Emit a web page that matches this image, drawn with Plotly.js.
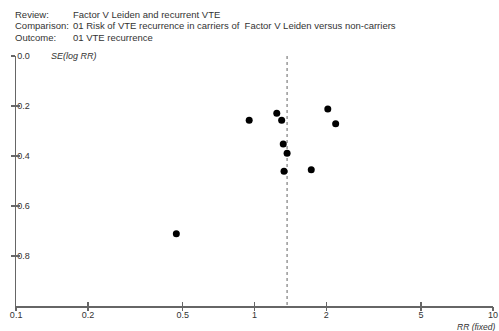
<!DOCTYPE html>
<html>
<head>
<meta charset="utf-8">
<script src="https://cdn.plot.ly/plotly-3.0.1.min.js"></script>
<style>html,body{margin:0;padding:0;background:#fff;}#chart{width:499px;height:331px;}</style>
</head>
<body>
<div id="chart"></div>
<script>
// Data
const rrValues = [0.95, 1.24, 1.30, 2.03, 2.19, 1.32, 1.37, 1.33, 1.73, 0.47];
const seValues = [0.257, 0.229, 0.257, 0.212, 0.271, 0.352, 0.389, 0.461, 0.455, 0.711];
const pooledRR = 1.37;
const xTickVals = [0.1, 0.2, 0.5, 1, 2, 5, 10];
const xTickText = ["0.1", "0.2", "0.5", "1", "2", "5", "10"];
const yTickVals = [0, 0.2, 0.4, 0.6, 0.8];
const yTickText = ["0.0", "0.2", "0.4", "0.6", "0.8"];
const headerLabels = ["Review:", "Comparison:", "Outcome:"];
const headerValues = ["Factor V Leiden and recurrent VTE",
  "01 Risk of VTE recurrence in carriers of  Factor V Leiden versus non-carriers",
  "01 VTE recurrence"];

const W = 499, H = 331;
const M = {l: 16, r: 6, t: 56, b: 25};
const pw = W - M.l - M.r, ph = H - M.t - M.b;
const px = x => (x - M.l) / pw;
const py = y => (H - M.b - y) / ph;

const axisColor = '#666';
const textColor = '#333';
const fontFam = 'Arial, "Liberation Sans", sans-serif';
const xRange = [-1.0005, 1.0005];

const traces = [
  {x: [pooledRR, pooledRR], y: [0, 1], mode: 'lines', type: 'scatter',
   line: {color: '#888', width: 1.3, dash: 'dot'}, hoverinfo: 'skip', showlegend: false},
  {x: rrValues, y: seValues, mode: 'markers', type: 'scatter',
   marker: {color: '#000', size: 7}, showlegend: false},
  {x: [1], y: [0.5], xaxis: 'x2', yaxis: 'y2', mode: 'markers', type: 'scatter',
   marker: {opacity: 0}, hoverinfo: 'skip', showlegend: false}
];

const annotations = [];
const rows = [14, 26, 38];
for (let i = 0; i < 3; i++) {
  annotations.push({text: headerLabels[i], xref: 'paper', yref: 'paper', x: px(13), y: py(rows[i]),
    xanchor: 'left', yanchor: 'middle', showarrow: false, font: {size: 9.5, color: textColor, family: fontFam}});
  annotations.push({text: headerValues[i], xref: 'paper', yref: 'paper', x: px(71), y: py(rows[i]),
    xanchor: 'left', yanchor: 'middle', showarrow: false, font: {size: 9.5, color: textColor, family: fontFam}});
}
annotations.push({text: '<i>SE(log RR)</i>', xref: 'paper', yref: 'paper', x: px(49), y: py(56),
  xanchor: 'left', yanchor: 'middle', showarrow: false, font: {size: 9, color: textColor, family: fontFam}});
annotations.push({text: '<i>RR (fixed)</i>', xref: 'paper', yref: 'paper', x: px(497), y: py(326.5),
  xanchor: 'right', yanchor: 'middle', showarrow: false, font: {size: 8.5, color: textColor, family: fontFam}});

const layout = {
  width: W, height: H,
  margin: M,
  paper_bgcolor: '#fff', plot_bgcolor: '#fff',
  font: {family: fontFam, size: 9, color: textColor},
  showlegend: false,
  xaxis: {type: 'log', range: xRange, tickvals: xTickVals, ticktext: xTickText,
    ticks: 'inside', ticklen: 4, tickwidth: 1.3, tickcolor: axisColor,
    ticklabeloverflow: 'allow',
    showline: true, linecolor: axisColor, linewidth: 1.5, showgrid: false, zeroline: false,
    tickfont: {size: 9, color: textColor}, fixedrange: true},
  xaxis2: {type: 'log', range: xRange, overlaying: 'x', anchor: 'y', tickvals: xTickVals,
    ticks: 'outside', ticklen: 4, tickwidth: 1.3, tickcolor: axisColor, showticklabels: false,
    showline: false, showgrid: false, zeroline: false, side: 'bottom'},
  yaxis: {range: [1.0005, -0.0005], tickvals: yTickVals, ticktext: yTickText,
    ticks: 'outside', ticklen: 4, tickwidth: 1.3, tickcolor: axisColor,
    ticklabelposition: 'inside', ticklabeloverflow: 'allow',
    showline: true, linecolor: axisColor, linewidth: 1.5, showgrid: false, zeroline: false,
    tickfont: {size: 9, color: textColor}, fixedrange: true},
  yaxis2: {range: [1.0005, -0.0005], overlaying: 'y', anchor: 'x', tickvals: yTickVals,
    ticks: 'inside', ticklen: 4, tickwidth: 1.3, tickcolor: axisColor, showticklabels: false,
    showline: false, showgrid: false, zeroline: false, side: 'left'},
  annotations: annotations
};

Plotly.newPlot('chart', traces, layout, {displayModeBar: false, staticPlot: true});
</script>
</body>
</html>
